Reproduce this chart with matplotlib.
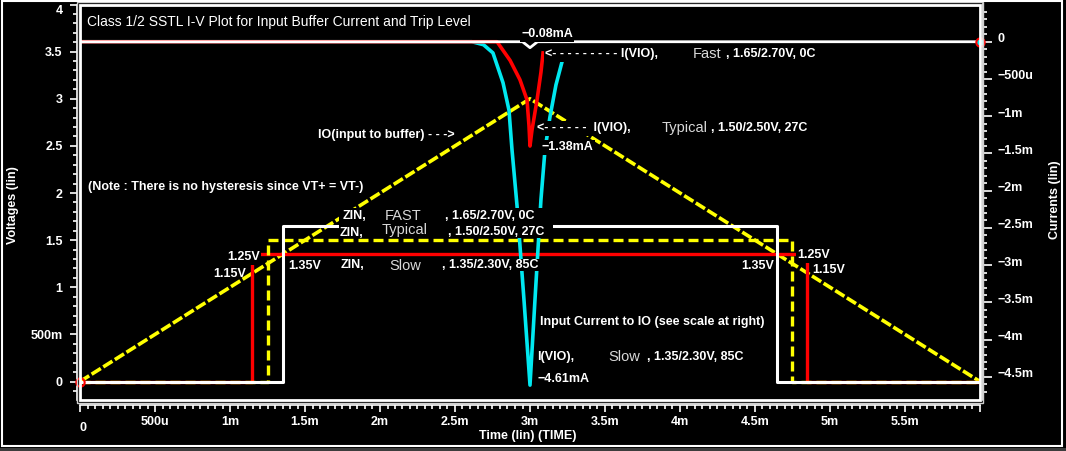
import matplotlib
matplotlib.use("Agg")
import matplotlib.pyplot as plt
import matplotlib.transforms as mtransforms
from matplotlib.patches import Rectangle

plt.rcParams['font.family'] = ['Liberation Sans', 'DejaVu Sans']
plt.rcParams['font.weight'] = 'bold'
plt.rcParams['font.size'] = 9

W, H = 1066, 451

# time in ms, voltages in V, currents in mA
t_io = [0.0, 3.0, 6.0]
v_io = [0.0, 3.0, 0.0]

zin_fast_t = [0.0, 1.35, 1.35, 4.65, 4.65, 6.0]
zin_fast_v = [0.0, 0.0, 1.65, 1.65, 0.0, 0.0]
zin_typ_t = [0.0, 1.25, 1.25, 4.75, 4.75, 6.0]
zin_typ_v = [0.0, 0.0, 1.50, 1.50, 0.0, 0.0]
zin_slow_t = [0.0, 1.15, 1.15, 4.85, 4.85, 6.0]
zin_slow_v = [0.0, 0.0, 1.35, 1.35, 0.0, 0.0]

i_fast_t = [0.0, 2.95, 3.0, 3.05, 6.0]
i_fast_ma = [0.0, 0.0, -0.08, 0.0, 0.0]

i_typ_t = [0.0, 2.78, 2.867, 2.933, 2.98, 2.993, 3.0, 3.013, 3.047, 3.073, 3.087]
i_typ_ma = [0.0, 0.0, -0.25, -0.51, -0.78, -1.12, -1.40, -1.19, -0.78, -0.41, -0.15]

i_slow_t = [0.0, 2.613, 2.69, 2.753, 2.82, 2.86, 2.88, 2.913, 2.96, 3.0,
            3.033, 3.073, 3.10, 3.133, 3.173, 3.22]
i_slow_ma = [0.0, 0.0, -0.04, -0.15, -0.55, -0.92, -1.45, -2.19, -3.47, -4.61,
             -3.47, -2.12, -1.45, -1.01, -0.58, -0.22]

v_ticks = [0, 0.5, 1, 1.5, 2, 2.5, 3, 3.5, 4]
v_labels = ['0', '500m', '1', '1.5', '2', '2.5', '3', '3.5', '4']
i_ticks = [0, -0.5, -1, -1.5, -2, -2.5, -3, -3.5, -4, -4.5]
i_labels = ['0', '\u2212500u', '\u22121m', '\u22121.5m', '\u22122m', '\u22122.5m',
            '\u22123m', '\u22123.5m', '\u22124m', '\u22124.5m']
t_ticks = [0, 0.5, 1, 1.5, 2, 2.5, 3, 3.5, 4, 4.5, 5, 5.5, 6]
t_labels = ['', '500u', '1m', '1.5m', '2m', '2.5m', '3m', '3.5m', '4m', '4.5m',
            '5m', '5.5m', '']

CYAN = '#00e8f0'


def fx(x):
    return x / W


def fy(y):
    return 1 - y / H


def box(x0, y0, x1, y1, host=None, **kw):
    r = Rectangle((fx(x0), fy(y1)), fx(x1) - fx(x0), fy(y0) - fy(y1),
                  transform=fig.transFigure, clip_on=False, **kw)
    if host is None:
        fig.patches.append(r)
    else:
        host.add_artist(r)


def label(x, y, s, bg=True, **kw):
    kw.setdefault('color', 'white')
    if bg:
        kw['bbox'] = dict(boxstyle='square,pad=0.12', fc='black', ec='none')
    fig.text(fx(x), fy(y), s, ha=kw.pop('ha', 'left'), va=kw.pop('va', 'center'), **kw)


fig = plt.figure(figsize=(W / 100, H / 100), dpi=100, facecolor='black')
ax = fig.add_axes([fx(80), fy(400), fx(980) - fx(80), fy(4.5) - fy(400)])
ax.set_facecolor('black')
ax2 = ax.twinx()

# voltages
ax.plot(t_io, v_io, color='yellow', lw=2.6, ls=(0, (3, 0.8)), zorder=2)
ax.plot(zin_slow_t, zin_slow_v, color='red', lw=2.4, zorder=3)
ax.plot(zin_typ_t, zin_typ_v, color='yellow', lw=2.4, ls=(0, (3, 1.5)), zorder=4)
ax.plot(zin_fast_t, zin_fast_v, color='white', lw=2.2, zorder=5)
ax.plot(t_io[:1], v_io[:1], 'o', mfc='none', mec='red', ms=6, mew=1.5, clip_on=False, zorder=6)

# currents
ax2.plot(i_slow_t, i_slow_ma, color=CYAN, lw=2.6)
ax2.plot(i_typ_t, i_typ_ma, color='red', lw=2.6)
ax2.plot(i_fast_t, i_fast_ma, color='white', lw=2.0)
ax2.plot(i_fast_t[-1:], i_fast_ma[-1:], 'o', mfc=CYAN, mec='red', ms=6, mew=1.5, clip_on=False)

ax.set_xlim(0, 6)
ax.set_ylim(-0.196, 3.998)
ax2.set_ylim(-4.81, 0.5)

ax.set_xticks(t_ticks)
ax.set_xticklabels(t_labels)
ax.set_xticks([k * 0.05 for k in range(121)], minor=True)
ax.set_yticks(v_ticks)
ax.set_yticklabels(v_labels)
ax.set_yticks([k * 0.1 for k in range(-1, 41)], minor=True)
ax2.set_yticks(i_ticks)
ax2.set_yticklabels(i_labels)
ax2.set_yticks([-k * 0.1 for k in range(-4, 48)], minor=True)

for a in (ax, ax2):
    for s in a.spines.values():
        s.set_visible(False)
ax.spines['left'].set_visible(True)
ax.spines['left'].set_position(('outward', 2.5))
ax.spines['bottom'].set_visible(True)
ax.spines['bottom'].set_position(('outward', 3.6))
ax2.spines['right'].set_visible(True)
ax2.spines['right'].set_position(('outward', 2.2))
for s in (ax.spines['left'], ax.spines['bottom'], ax2.spines['right']):
    s.set_color('white')
    s.set_linewidth(1.2)

ax.tick_params(axis='both', which='both', colors='white', direction='out', width=1.2)
ax.tick_params(axis='y', which='major', length=5, pad=5)
ax.tick_params(axis='y', which='minor', length=3)
ax.tick_params(axis='x', which='major', length=5, pad=3)
ax.tick_params(axis='x', which='minor', length=3)
ax2.tick_params(axis='y', which='both', colors='white', direction='out', width=1.2)
ax2.tick_params(axis='y', which='major', length=6.5, pad=4)
ax2.tick_params(axis='y', which='minor', length=3.2)
ax.get_yticklabels()[-1].set_va('top')
lift = mtransforms.ScaledTranslation(0, 4 / 100, fig.dpi_scale_trans)
for t in ax2.get_yticklabels():
    t.set_transform(t.get_transform() + lift)

# frames
box(80, 4.5, 980, 400, fill=False, ec='white', lw=2.0)
box(76.5, 1.5, 983, 402.5, fill=False, ec='#cfcfcf', lw=1.0)
box(1.5, 1, 1062, 446, fill=False, ec='white', lw=1.5)
box(0, 447.5, W, H, fc='#3c3c3c', ec='none')

# black label strips behind the ZIN rows (hide the traces under the text)
box(339, 208, 553, 237.5, host=ax2, fc='black', ec='none', zorder=20)
box(339, 259, 546, 271, host=ax2, fc='black', ec='none', zorder=20)

# axis titles
label(13, 205, 'Voltages (lin)', bg=False, rotation=90, ha='center')
label(1055, 200, 'Currents (lin)', bg=False, rotation=90, ha='center')
label(528, 436, 'Time (lin) (TIME)', bg=False, ha='center')
label(83, 428, '0', bg=False, ha='center')

# annotations
gray = dict(color='#d9d9d9', fontweight='normal', fontsize=10.5)
label(87, 22, 'Class 1/2 SSTL I-V Plot for Input Buffer Current and Trip Level',
      bg=False, fontweight='normal', fontsize=10)
label(521, 34, '\u22120.08mA')
label(545, 54, '<' + '- ' * 9 + 'I(VIO),')
label(693, 54, 'Fast', **gray)
label(726, 54, ', 1.65/2.70V, 0C')
label(318, 135, 'IO(input to buffer) - - ->')
label(537, 128, '<' + '- ' * 6 + ' I(VIO),')
label(662, 128, 'Typical', **gray)
label(711, 128, ', 1.50/2.50V, 27C')
label(542, 147, '\u22121.38mA')
label(88, 187, '(Note : There is no hysteresis since VT+ = VT-)', bg=False)

label(343, 216, 'ZIN,', bg=False)
label(385, 216, 'FAST', bg=False, **gray)
label(445, 216, ', 1.65/2.70V, 0C', bg=False)
label(340, 233, 'ZIN,', bg=False)
label(382, 230, 'Typical', bg=False, **gray)
label(448, 232, ', 1.50/2.50V, 27C', bg=False)
label(341, 265, 'ZIN,', bg=False)
label(389, 266, 'Slow', bg=False, **gray)
label(442, 265, ', 1.35/2.30V, 85C', bg=False)

label(227, 257, '1.25V')
label(213, 274, '1.15V', bg=False)
label(288, 266, '1.35V')
label(741, 266, '1.35V')
label(797, 255, '1.25V')
label(812, 270, '1.15V', bg=False)

label(540, 322, 'Input Current to IO (see scale at right)')
label(537, 357, 'I(VIO),')
label(608, 357, 'Slow', **gray)
label(647, 357, ', 1.35/2.30V, 85C')
label(537, 379, '\u22124.61mA')

fig.savefig('out.png', dpi=100, facecolor='black')
